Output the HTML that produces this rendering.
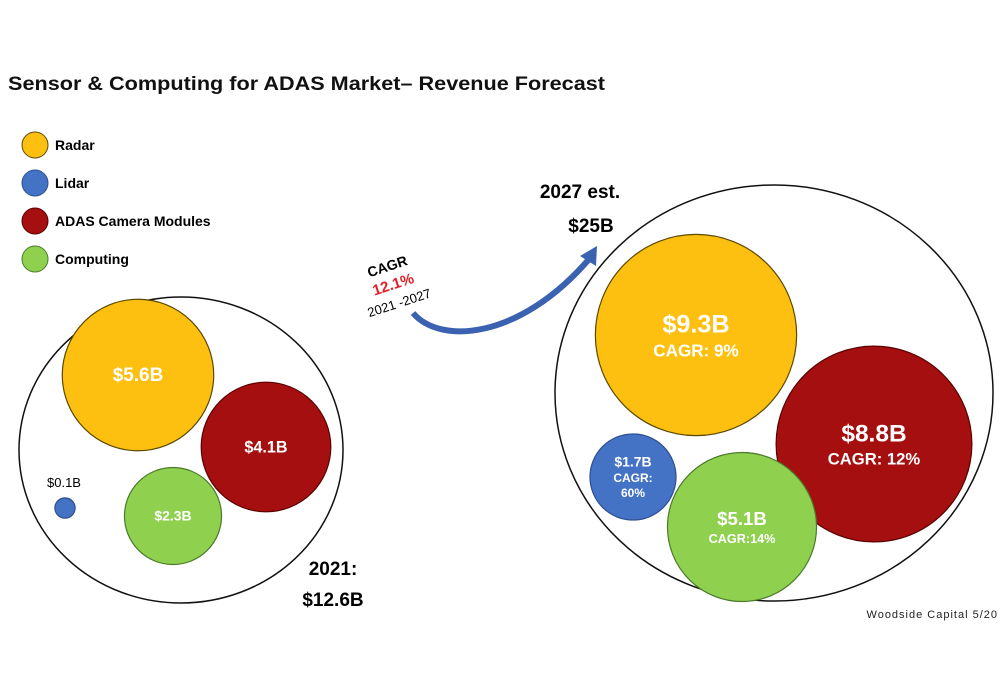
<!DOCTYPE html>
<html><head><meta charset="utf-8"><style>
body{margin:0;background:#fff;}
svg{display:block;font-family:"Liberation Sans",sans-serif;font-weight:bold;}
</style></head><body>
<svg width="1000" height="681" viewBox="0 0 1000 681">
<text x="8" y="90" font-size="19" fill="#111" textLength="597" lengthAdjust="spacingAndGlyphs">Sensor &amp; Computing for ADAS Market– Revenue Forecast</text>
<g id="legend"></g>
<ellipse cx="181" cy="450" rx="162" ry="153" fill="none" stroke="#111" stroke-width="1.5"/>
<ellipse cx="774" cy="393" rx="219" ry="208" fill="none" stroke="#111" stroke-width="1.5"/>
<g id="bubbles"></g>
<text x="64" y="487" font-size="13" text-anchor="middle" font-weight="normal">$0.1B</text>
<text x="333" y="575" font-size="19" text-anchor="middle">2021:</text>
<text x="333" y="606" font-size="19" text-anchor="middle">$12.6B</text>
<text x="580" y="198" font-size="19" text-anchor="middle">2027 est.</text>
<text x="591" y="232" font-size="19" text-anchor="middle">$25B</text>
<path d="M413,313 C440,345 520,340 590,258" fill="none" stroke="#3a62b0" stroke-width="6"/>
<polygon points="597,246 580,256 596,266" fill="#3a62b0"/>
<g transform="rotate(-18 395 290)">
<text x="395" y="270" font-size="14" text-anchor="middle">CAGR</text>
<text x="395" y="289" font-size="15" text-anchor="middle" fill="#e21d24">12.1%</text>
<text x="395" y="308" font-size="13" text-anchor="middle" font-weight="normal">2021 -2027</text>
</g>
<text x="998" y="618" font-size="11" text-anchor="end" font-weight="normal" letter-spacing="1" fill="#222">Woodside Capital 5/20</text>
</svg>
<script>
const segments=["Radar","Lidar","ADAS Camera Modules","Computing"];
const colors=["#fdc010","#4472c4","#a50f0f","#8fd14f"];
const strokes=["#5a4a00","#2f4f8f","#5a0000","#4a7a2a"];
const values2021=[5.6,0.1,4.1,2.3];
const values2027=[9.3,1.7,8.8,5.1];
const labels2021=["$5.6B","","$4.1B","$2.3B"];
const labels2027=["$9.3B","$1.7B","$8.8B","$5.1B"];
const cagr2027=["CAGR: 9%","CAGR:|60%","CAGR: 12%","CAGR:14%"];
const NS="http://www.w3.org/2000/svg";
const lg=document.getElementById('legend');
segments.forEach((s,i)=>{
 const c=document.createElementNS(NS,'circle');
 c.setAttribute('cx',35);c.setAttribute('cy',145+i*38);c.setAttribute('r',13);
 c.setAttribute('fill',colors[i]);c.setAttribute('stroke',strokes[i]);
 
 
 lg.appendChild(c);
 const t=document.createElementNS(NS,'text');
 t.setAttribute('x',55);t.setAttribute('y',150+i*38);t.setAttribute('font-size',14);
 t.textContent=s;
 
 
 lg.appendChild(t);
});
const pos2021=[[138,375],[65,508],[266,447],[173,516]];
const pos2027=[[696,335],[633,477],[874,444],[742,527]];
const k2021=32, k2027=33;
const bg=document.getElementById('bubbles');
function bubble(cx,cy,v,i,label,sub,year,k){
 const r=k*Math.sqrt(v);
 const c=document.createElementNS(NS,'circle');
 c.setAttribute('cx',cx);c.setAttribute('cy',cy);c.setAttribute('r',r);
 c.setAttribute('fill',colors[i]);c.setAttribute('stroke',strokes[i]);c.setAttribute('stroke-width',1.2);
 
 
 bg.appendChild(c);
 if(!label)return;
 const fs=Math.max(14,Math.min(26,r*0.25));
 const lines=sub?[label].concat(sub.split('|')):[label];
 const sizes=lines.map((l,j)=>j==0?fs:Math.max(12,fs*0.68));
 let total=sizes.reduce((a,b)=>a+b*1.25,0);
 let y=cy-total/2;
 lines.forEach((l,j)=>{
  y+=sizes[j]*1.25;
  const t=document.createElementNS(NS,'text');
  t.setAttribute('x',cx);t.setAttribute('y',y-sizes[j]*0.3);
  t.setAttribute('font-size',sizes[j]);t.setAttribute('text-anchor','middle');t.setAttribute('fill','#fff');
  t.textContent=l;
  
  
  bg.appendChild(t);
 });
}
values2021.forEach((v,i)=>bubble(pos2021[i][0],pos2021[i][1],v,i,labels2021[i],null,'2021',k2021));
values2027.forEach((v,i)=>bubble(pos2027[i][0],pos2027[i][1],v,i,labels2027[i],cagr2027[i],'2027',k2027));
</script>
</body></html>
